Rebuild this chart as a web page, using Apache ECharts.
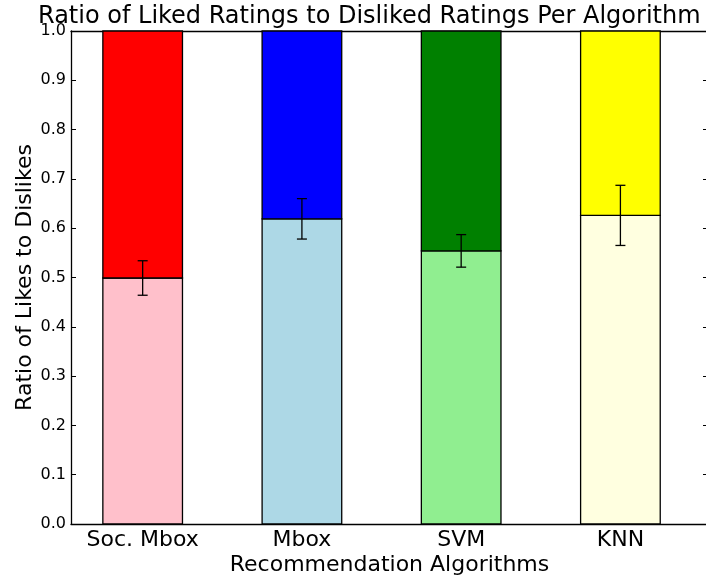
<!DOCTYPE html>
<html>
<head>
<meta charset="utf-8">
<script src="https://cdn.jsdelivr.net/npm/echarts@6/dist/echarts.min.js"></script>
<style>html,body{margin:0;padding:0;background:#fff;}#c{width:706px;height:578px;}</style>
</head>
<body>
<div id="c"></div>
<script>
const categories = ['Soc. Mbox', 'Mbox', 'SVM', 'KNN'];
const likes = [0.499, 0.619, 0.554, 0.626];
const dislikes = [0.501, 0.381, 0.446, 0.374];
const likesErr = [0.035, 0.041, 0.033, 0.061];

const likeColors = ['#FFC0CB', '#ADD8E6', '#90EE90', '#FFFFE0'];
const dislikeColors = ['#FF0000', '#0000FF', '#008000', '#FFFF00'];
const FONT = 'DejaVu Sans';
const positions = categories.map((c, i) => i);

const likeData = positions.map((x, i) => [x, 0, likes[i]]);
const dislikeData = positions.map((x, i) => [x, likes[i], likes[i] + dislikes[i]]);
const errData = positions.map((x, i) => [x, likes[i] - likesErr[i], likes[i] + likesErr[i]]);

function barRender(colors) {
  return function (params, api) {
    const x = api.value(0), y0 = api.value(1), y1 = api.value(2);
    const a = api.coord([x - 0.25, y1]);
    const b = api.coord([x + 0.25, y0]);
    return {
      type: 'rect',
      shape: { x: a[0], y: a[1], width: b[0] - a[0], height: b[1] - a[1] },
      style: { fill: colors[params.dataIndex], stroke: '#000', lineWidth: 1.3 }
    };
  };
}

function errRender(params, api) {
  const x = api.value(0);
  const lo = api.coord([x, api.value(1)]);
  const hi = api.coord([x, api.value(2)]);
  const cap = 5;
  const st = { stroke: '#000', lineWidth: 1.3 };
  return {
    type: 'group',
    children: [
      { type: 'line', shape: { x1: lo[0], y1: lo[1], x2: hi[0], y2: hi[1] }, style: st },
      { type: 'line', shape: { x1: lo[0] - cap, y1: lo[1], x2: lo[0] + cap, y2: lo[1] }, style: st },
      { type: 'line', shape: { x1: hi[0] - cap, y1: hi[1], x2: hi[0] + cap, y2: hi[1] }, style: st }
    ]
  };
}

const axisLineStyle = { show: true, onZero: false, lineStyle: { color: '#000', width: 1.3 } };

const chart = echarts.init(document.getElementById('c'), null, { renderer: 'canvas' });
chart.setOption({
  animation: false,
  backgroundColor: '#fff',
  textStyle: { fontFamily: FONT },
  title: {
    text: 'Ratio of Liked Ratings to Disliked Ratings Per Algorithm',
    left: 33, top: 0,
    textStyle: { fontFamily: FONT, fontSize: 24, fontWeight: 'normal', color: '#000' }
  },
  grid: { left: 71, top: 31, width: 637, height: 493, containLabel: false, outerBoundsMode: 'none' },
  xAxis: [
    {
      type: 'value', position: 'bottom', min: -0.45, max: 3.55,
      axisLine: axisLineStyle,
      axisTick: { show: true, inside: true, length: 5, customValues: positions, lineStyle: { color: '#000' } },
      axisLabel: {
        show: true, customValues: positions, margin: 5,
        formatter: v => categories[Math.round(v)],
        fontFamily: FONT, fontSize: 22, color: '#000'
      },
      splitLine: { show: false },
      name: 'Recommendation Algorithms', nameLocation: 'middle', nameGap: 30, nameMoveOverlap: false,
      nameTextStyle: { fontFamily: FONT, fontSize: 22, color: '#000' }
    },
    {
      type: 'value', position: 'top', min: -0.45, max: 3.55,
      axisLine: axisLineStyle,
      axisTick: { show: true, inside: true, length: 5, customValues: positions, lineStyle: { color: '#000' } },
      axisLabel: { show: false },
      splitLine: { show: false }
    }
  ],
  yAxis: [
    {
      type: 'value', position: 'left', min: 0, max: 1, interval: 0.1,
      axisLine: axisLineStyle,
      axisTick: { show: true, inside: true, length: 5, lineStyle: { color: '#000' } },
      axisLabel: {
        formatter: v => v.toFixed(1), margin: 5,
        fontFamily: FONT, fontSize: 16, color: '#000'
      },
      splitLine: { show: false },
      name: 'Ratio of Likes to Dislikes', nameLocation: 'middle', nameGap: 35, nameRotate: 90, nameMoveOverlap: false,
      nameTextStyle: { fontFamily: FONT, fontSize: 22, color: '#000' }
    },
    {
      type: 'value', position: 'right', min: 0, max: 1, interval: 0.1,
      axisLine: axisLineStyle,
      axisTick: { show: true, inside: true, length: 5, lineStyle: { color: '#000' } },
      axisLabel: { show: false },
      splitLine: { show: false }
    }
  ],
  series: [
    { type: 'custom', xAxisIndex: 0, yAxisIndex: 0, renderItem: barRender(likeColors), data: likeData, z: 2 },
    { type: 'custom', xAxisIndex: 0, yAxisIndex: 0, renderItem: barRender(dislikeColors), data: dislikeData, z: 2 },
    { type: 'custom', xAxisIndex: 0, yAxisIndex: 0, renderItem: errRender, data: errData, z: 3 }
  ]
});
</script>
</body>
</html>
